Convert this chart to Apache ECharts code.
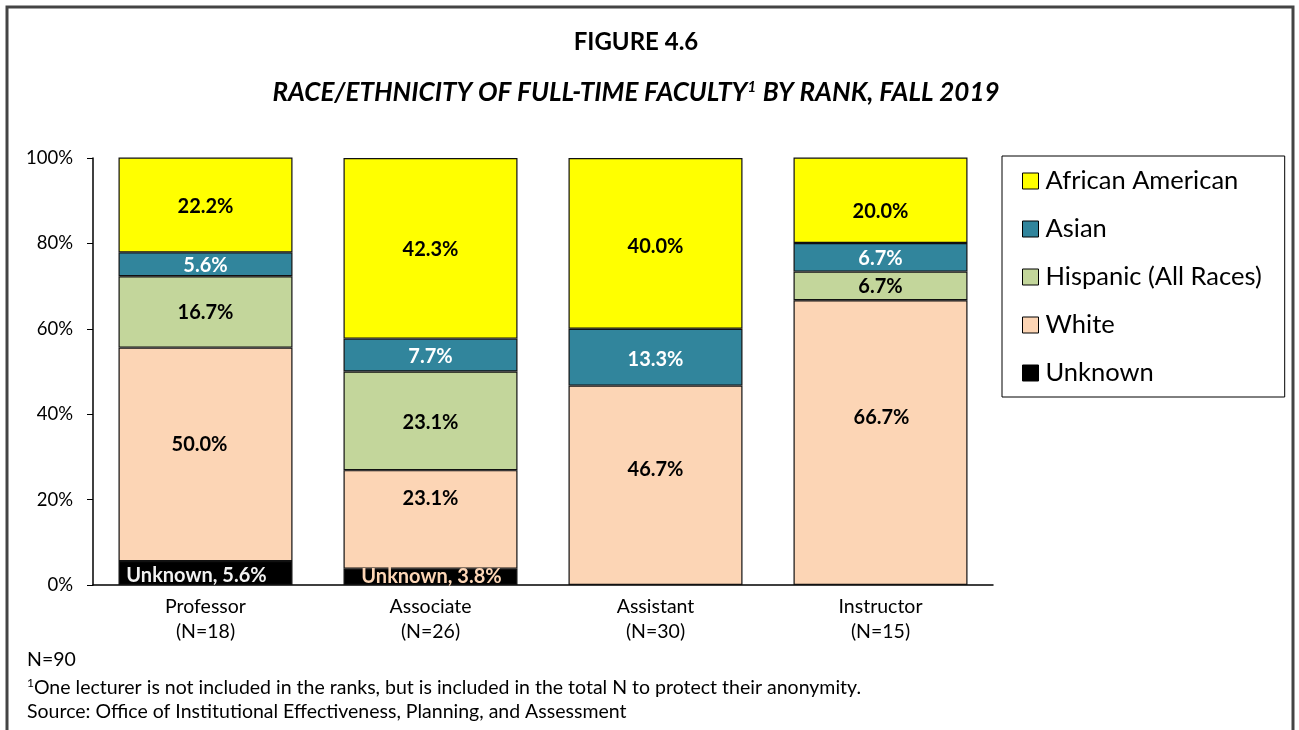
<!DOCTYPE html>
<html><head><meta charset="utf-8">
<script src="https://cdn.jsdelivr.net/npm/echarts@6/dist/echarts.min.js"></script>
<style>html,body{margin:0;padding:0;background:#fff}#c{width:1299px;height:730px}</style>
</head><body><div id="c"></div>
<script>
const categories = ['Professor\n(N=18)', 'Associate\n(N=26)', 'Assistant\n(N=30)', 'Instructor\n(N=15)'];
const unknownVals = [5.6, 3.8, 0, 0];
const whiteVals = [50.0, 23.1, 46.7, 66.7];
const hispanicVals = [16.7, 23.1, 0, 6.7];
const asianVals = [5.6, 7.7, 13.3, 6.7];
const africanAmericanVals = [22.2, 42.3, 40.0, 20.0];
const yTicks = [0, 20, 40, 60, 80, 100];

// label placement tweaks (pixels), kept apart from the data
const labelOffsets = {
  'Unknown': [[-9, 3], [1, 0], [0, 0], [0, 0]],
  'White': [[-6, -10], [0, -21], [0, -16], [1, -25]],
  'Hispanic (All Races)': [[0, 1], [0, 2], [0, 0], [0, 1]],
  'Asian': [[0, 1], [0, 1], [0, 2], [0, 1]],
  'African American': [[0, 1.5], [0, 1.5], [0, 3], [0, 11]]
};

const FONT = 'Lato, "Liberation Sans", sans-serif';
const chart = echarts.init(document.getElementById('c'));

function mk(name, vals, color, labelColor, unknown) {
  return {
    name, type: 'bar', stack: 'all', barWidth: 174,
    data: vals.map((v, i) => v === 0 ? '-' : {
      value: v,
      label: Object.assign({offset: labelOffsets[name][i]},
        unknown ? {color: i === 0 ? '#F2F2F2' : '#FCD5B5'} : {})
    }),
    itemStyle: {color, borderColor: '#111', borderWidth: 1.2},
    label: {
      show: true, position: 'inside', fontFamily: FONT, fontWeight: 'bold', fontSize: 20,
      color: labelColor,
      formatter: p => (unknown ? 'Unknown, ' : '') + Number(p.value).toFixed(1) + '%'
    },
    emphasis: {disabled: true}
  };
}

chart.setOption({
  animation: false,
  textStyle: {fontFamily: FONT},
  graphic: [
    {type: 'rect', shape: {x: 7, y: 7, width: 1286, height: 740}, style: {fill: 'none', stroke: '#444', lineWidth: 3}},
    {type: 'text', x: 636, y: 42, style: {text: 'FIGURE 4.6', font: 'bold 24px ' + FONT, fill: '#000', align: 'center', verticalAlign: 'middle'}},
    {type: 'text', x: 636, y: 93, style: {
      text: '{t|RACE/ETHNICITY OF FULL-TIME FACULTY}{s|1}{t| BY RANK, FALL 2019}',
      align: 'center', verticalAlign: 'middle',
      rich: {t: {font: 'italic bold 26px ' + FONT, fill: '#000'}, s: {font: 'italic bold 15px ' + FONT, fill: '#000', padding: [0, 1, 12, 0]}}
    }},
    {type: 'text', x: 27, y: 660, style: {text: 'N=90', font: '19.5px ' + FONT, fill: '#000', verticalAlign: 'middle'}},
    {type: 'text', x: 27, y: 688, style: {
      text: '{s|1}{t|One lecturer is not included in the ranks, but is included in the total N to protect their anonymity.}',
      verticalAlign: 'middle',
      rich: {t: {font: '19.5px ' + FONT, fill: '#000'}, s: {font: '12px ' + FONT, fill: '#000', padding: [0, 0, 9, 0]}}
    }},
    {type: 'text', x: 27, y: 712, style: {text: 'Source: Office of Institutional Effectiveness, Planning, and Assessment', font: '19.5px ' + FONT, fill: '#000', verticalAlign: 'middle'}}
  ],
  legend: {
    orient: 'vertical', left: 1002, top: 156,
    data: ['African American', 'Asian', 'Hispanic (All Races)', 'White', 'Unknown'],
    itemWidth: 16, itemHeight: 16, itemGap: 22, padding: [12, 23, 11, 20],
    borderColor: '#000', borderWidth: 1,
    textStyle: {fontFamily: FONT, fontSize: 25.5, lineHeight: 26, color: '#000', padding: [0, 0, 0, 2]},
    icon: 'rect',
    itemStyle: {borderColor: '#000', borderWidth: 1}
  },
  grid: {left: 93, right: 306, top: 158, bottom: 145, containLabel: false},
  xAxis: {
    type: 'category', data: categories,
    axisLine: {lineStyle: {color: '#000', width: 1.5}},
    axisTick: {alignWithLabel: true, length: 6, lineStyle: {color: '#000'}},
    axisLabel: {fontFamily: FONT, fontSize: 19.5, color: '#000', lineHeight: 25, margin: 9}
  },
  yAxis: {
    type: 'value', min: 0, max: 100, interval: 20,
    axisLine: {show: true, lineStyle: {color: '#000', width: 1.5}},
    axisTick: {show: true, length: 6, lineStyle: {color: '#000'}},
    splitLine: {show: false},
    axisLabel: {fontFamily: FONT, fontSize: 18.5, color: '#000', margin: 20,
      formatter: v => yTicks.includes(v) ? v + '%' : ''}
  },
  series: [
    mk('Unknown', unknownVals, '#000000', '#F2F2F2', true),
    mk('White', whiteVals, '#FCD5B5', '#000', false),
    mk('Hispanic (All Races)', hispanicVals, '#C3D69B', '#000', false),
    mk('Asian', asianVals, '#31859C', '#fff', false),
    mk('African American', africanAmericanVals, '#FFFF00', '#000', false)
  ]
});
</script></body></html>
